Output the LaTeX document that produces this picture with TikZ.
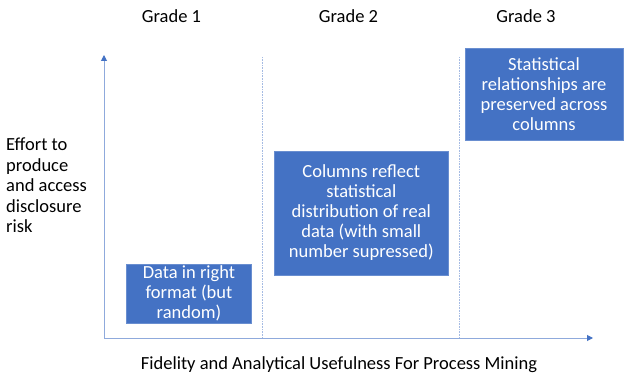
\documentclass[tikz,border=0pt]{standalone}
\usepackage{fontspec}
\setmainfont{Carlito}
\usetikzlibrary{arrows.meta,positioning}
\definecolor{gradeblue}{HTML}{4472C4}
\definecolor{axisblue}{HTML}{8FAADC}
\tikzset{
  grade/box/.style={
    draw=gradeblue!80!white,
    fill=gradeblue,
    text=white,
    align=center,
    font=\fontsize{18.5}{20}\selectfont,
    inner sep=0pt
  },
  grade/title/.style={font=\fontsize{18.5}{20}\selectfont, anchor=base, inner sep=0pt},
  grade/axis/.style={axisblue, line width=1pt,
    -{Triangle[length=6pt,width=6pt,color=gradeblue]}},
  grade/split/.style={axisblue!80, line width=0.6pt, densely dotted}
}
\begin{document}
\begin{tikzpicture}[x=1pt, y=-1pt]
\useasboundingbox (0,0) rectangle (624,374);

% --- axes
\coordinate (origin) at (104,338);
\coordinate (ytop)   at (104,55);
\coordinate (xend)   at (593,338);
\draw[grade/axis] (origin) -- (ytop);
\draw[grade/axis] (origin) -- (xend);

% --- column splits
\coordinate (split1top) at (262,57);
\coordinate (split1bot) at (262,338);
\coordinate (split2top) at (459,57);
\coordinate (split2bot) at (459,338);
\draw[grade/split] (split1top) -- (split1bot);
\draw[grade/split] (split2top) -- (split2bot);

% --- column titles
\node[grade/title] (g1) at (171.5,23) {Grade 1};
\node[grade/title] (g2) at (348.5,23) {Grade 2};
\node[grade/title] (g3) at (526,23) {Grade 3};

% --- grade boxes
\node[grade/box, minimum width=125pt, minimum height=59pt] (low) at (189,293.5)
  {Data in right\\format (but\\random)};
\node[grade/box, minimum width=174pt, minimum height=124pt] (mid) at (361.3,213)
  {Columns reflect\\statistical\\distribution of real\\data (with small\\number supressed)};
\node[grade/box, minimum width=158pt, minimum height=92pt] (high) at (544,94.3)
  {Statistical\\relationships are\\preserved across\\columns};

% --- axis labels (base = last line)
\node[align=left, anchor=base west, font=\fontsize{18.5}{20.5}\selectfont, inner sep=0pt]
  (ylabel) at (6,233) {Effort to\\produce\\and access\\disclosure\\risk};
\node[grade/title] (xlabel) at (339,369) {Fidelity and Analytical Usefulness For Process Mining};

\end{tikzpicture}
\end{document}
